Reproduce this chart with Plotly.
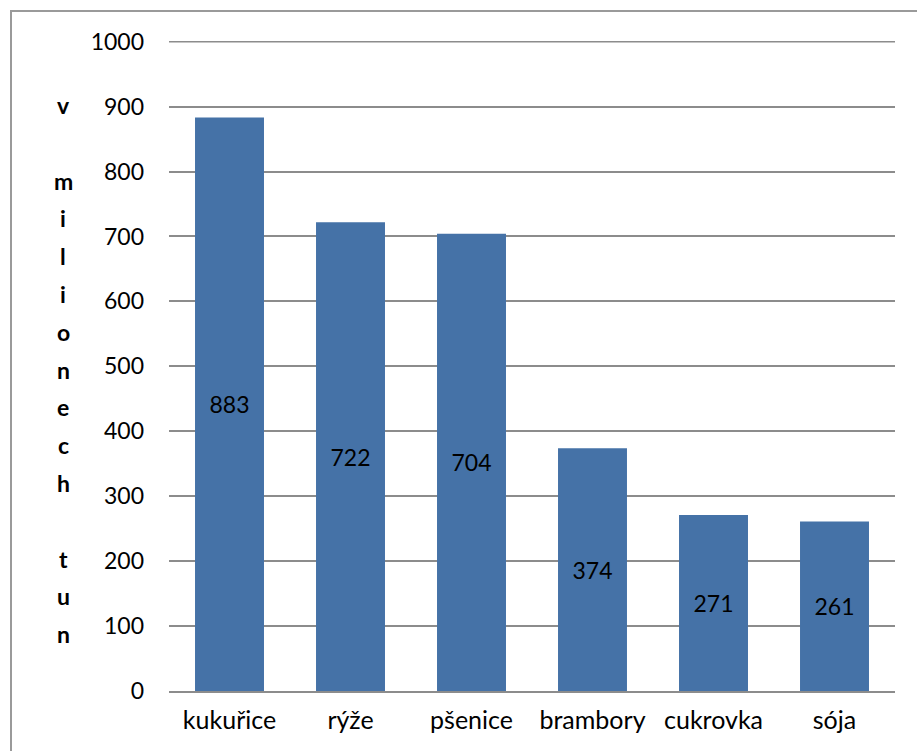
import plotly.graph_objects as go

# World crop production, millions of tonnes
crops = ["kukuřice", "rýže", "pšenice", "brambory", "cukrovka", "sója"]
production = [883, 722, 704, 374, 271, 261]
y_ticks = [0, 100, 200, 300, 400, 500, 600, 700, 800, 900, 1000]
y_title = "v\n\nmilionech\n\ntun"

W, H = 917, 751
ML, MR, MT, MB = 169, 22, 41, 60
PW, PH = W - ML - MR, H - MT - MB

FONT = "Lato"
BAR = "#4572A7"
GRID = "#8c8c8c"

fig = go.Figure(
    go.Bar(
        x=crops,
        y=production,
        marker=dict(color=BAR, line=dict(width=0)),
        text=[str(v) for v in production],
        textposition="inside",
        insidetextanchor="middle",
        textangle=0,
        textfont=dict(family=FONT, size=23, color="black"),
        width=0.57,
    )
)

fig.update_layout(
    width=W,
    height=H,
    margin=dict(l=ML, r=MR, t=MT, b=MB, pad=0),
    paper_bgcolor="white",
    plot_bgcolor="white",
    showlegend=False,
    font=dict(family=FONT, size=23, color="black"),
    uniformtext=dict(mode=False),
)

fig.update_xaxes(
    showgrid=False,
    showline=True,
    linecolor=GRID,
    linewidth=2,
    ticks="",
    tickfont=dict(family=FONT, size=25, color="black"),
    ticklabelstandoff=6,
)

fig.update_yaxes(
    range=[0, 1001],
    tickvals=y_ticks,
    showgrid=True,
    gridcolor=GRID,
    gridwidth=1.5,
    zeroline=False,
    showline=False,
    ticks="",
    tickfont=dict(family=FONT, size=23, color="black"),
    ticklabelstandoff=24,
)

# top gridline at the last tick (plotly drops the one on the plot edge)
fig.add_shape(
    type="line",
    xref="paper",
    yref="y",
    x0=0,
    x1=1,
    y0=y_ticks[-1],
    y1=y_ticks[-1],
    line=dict(color=GRID, width=1.5),
    layer="below",
)

# vertical axis title: one character per row, blank rows between words
letters = []
for word in y_title.split("\n"):
    if word:
        letters.extend(list(word))
    else:
        letters.append("")
step = 37.8
top_px = 105
for i, ch in enumerate(letters):
    if not ch:
        continue
    ypx = top_px + i * step
    fig.add_annotation(
        x=(63 - ML) / PW,
        y=(H - MB - ypx) / PH,
        xref="paper",
        yref="paper",
        text=f"<b>{ch}</b>",
        showarrow=False,
        xanchor="center",
        yanchor="middle",
        font=dict(family=FONT, size=23, color="black"),
    )

# chart frame
fig.add_shape(
    type="rect",
    xref="paper",
    yref="paper",
    x0=(11 - ML) / PW,
    x1=1.2,
    y0=-0.3,
    y1=(H - MB - 11) / PH,
    line=dict(color="#9a9a9a", width=2),
    fillcolor="rgba(0,0,0,0)",
    layer="below",
)

fig.write_html("out.html")
